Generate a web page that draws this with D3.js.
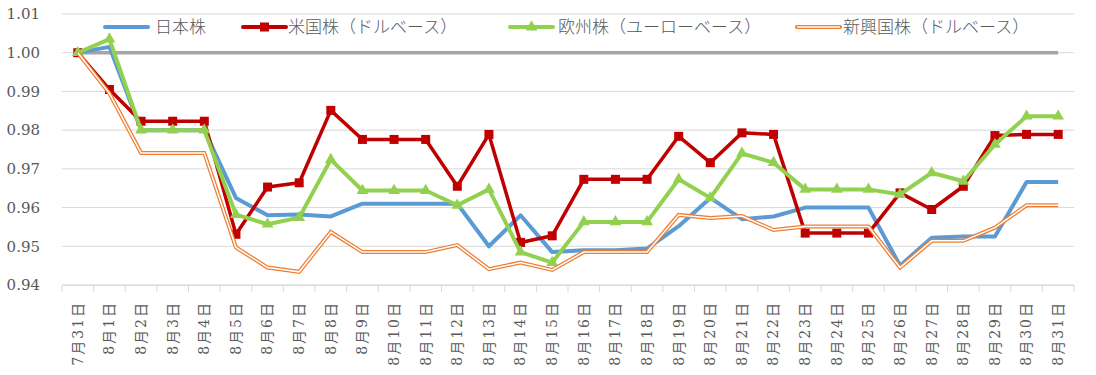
<!DOCTYPE html>
<html>
<head>
<meta charset="utf-8">
<script src="https://cdn.jsdelivr.net/npm/d3@7"></script>
<style>
body { margin: 0; background: white; }
</style>
</head>
<body>
<script>
/* categories: 7/31 and every day of August */
var dates = ["7月31日"];
for (var d = 1; d <= 31; d++) dates.push("8月" + d + "日");

var yTicks = [0.94, 0.95, 0.96, 0.97, 0.98, 0.99, 1.00, 1.01];

/* series values */
var japan = [1.000, 1.0015, 0.980, 0.980, 0.980, 0.9625, 0.958, 0.9582, 0.9577, 0.961, 0.961, 0.961,
	0.961, 0.950, 0.958, 0.9485, 0.949, 0.949, 0.9494, 0.9552, 0.9625, 0.957, 0.9577, 0.960, 0.960, 0.960,
	0.945, 0.9522, 0.9525, 0.9525, 0.9666, 0.9666];
var us = [1.000, 0.9905, 0.9823, 0.9823, 0.9823, 0.9531, 0.9653, 0.9664, 0.9851, 0.9776, 0.9776, 0.9776,
	0.9655, 0.9789, 0.951, 0.9527, 0.9673, 0.9673, 0.9673, 0.9784, 0.9716, 0.9793, 0.9789, 0.9534, 0.9534, 0.9534,
	0.9638, 0.9595, 0.9655, 0.9786, 0.9789, 0.9789];
var europe = [1.000, 1.0035, 0.980, 0.980, 0.980, 0.9582, 0.9557, 0.9574, 0.9724, 0.9644, 0.9644, 0.9644,
	0.9606, 0.9647, 0.9485, 0.9458, 0.9563, 0.9563, 0.9563, 0.9673, 0.9625, 0.974, 0.9716, 0.9647, 0.9647, 0.9647,
	0.9634, 0.969, 0.9668, 0.9763, 0.9836, 0.9836];
var emerging = [1.000, 0.9895, 0.9741, 0.9741, 0.9741, 0.9497, 0.9445, 0.9434, 0.9537, 0.9485, 0.9485, 0.9485,
	0.9503, 0.9441, 0.9458, 0.9439, 0.9485, 0.9485, 0.9485, 0.9581, 0.9573, 0.9578, 0.9542, 0.9551, 0.9551, 0.9551,
	0.9445, 0.9514, 0.9514, 0.9548, 0.9606, 0.9606];
var base = dates.map(function(){ return 1.00; });

var names = ["日本株", "米国株（ドルベース）", "欧州株（ユーローベース）", "新興国株（ドルベース）"];

var textColour = "#595959", gridColour = "#D9D9D9";

var svg = d3.select("body").append("svg")
	.attr("width", 1096)
	.attr("height", 375);

var x = d3.scaleBand().domain(dates).range([62, 1074]);
var y = d3.scaleLinear().domain([0.94, 1.01]).range([285, 14]);
var cx = function(d, i){ return x(dates[i]) + x.bandwidth()/2; };

/* horizontal gridlines */
svg.append("g").selectAll("line").data(yTicks).enter().append("line")
	.attr("x1", 62).attr("x2", 1074)
	.attr("y1", function(d){ return y(d); }).attr("y2", function(d){ return y(d); })
	.style("stroke", gridColour).style("stroke-width", 1);

/* y axis labels */
svg.append("g").selectAll("text").data(yTicks).enter().append("text")
	.attr("x", 40).attr("y", function(d){ return y(d); })
	.attr("dy", "0.35em").attr("text-anchor", "end")
	.style("font-family", "'DejaVu Serif', serif").style("font-size", "15px")
	.style("fill", textColour)
	.text(function(d){ return d3.format(".2f")(d); });

/* x axis with ticks between categories */
var xAxis = svg.append("g").attr("transform", "translate(0,285)")
	.call(d3.axisBottom(x).tickSize(0).tickFormat(""));
xAxis.select(".domain").style("stroke", gridColour);
xAxis.selectAll(".tick").remove();
xAxis.selectAll("line.sep").data(dates.concat(["end"])).enter().append("line").attr("class", "sep")
	.attr("x1", function(d, i){ return 62 + i*x.step(); })
	.attr("x2", function(d, i){ return 62 + i*x.step(); })
	.attr("y1", 0).attr("y2", 7)
	.style("stroke", gridColour);

/* rotated date labels */
svg.append("g").selectAll("text").data(dates).enter().append("text")
	.attr("transform", function(d){ return "translate(" + (x(d) + x.bandwidth()/2) + ",301) rotate(-90)"; })
	.attr("dy", "0.35em").attr("text-anchor", "end")
	.style("font-family", "'DejaVu Serif', 'Noto Sans CJK JP', serif").style("font-size", "14px")
	.style("letter-spacing", "2px")
	.style("fill", textColour)
	.text(function(d){ return d; });

var line = d3.line().x(cx).y(function(d){ return y(d); });

/* 1.00 reference line */
svg.append("path").datum(base).attr("d", line)
	.attr("fill", "none").style("stroke", "#A5A5A5").style("stroke-width", 3.5);

/* Japan */
svg.append("path").datum(japan).attr("d", line)
	.attr("fill", "none").style("stroke", "#5B9BD5").style("stroke-width", 4)
	.style("stroke-linejoin", "round");

/* US with square markers */
svg.append("path").datum(us).attr("d", line)
	.attr("fill", "none").style("stroke", "#C00000").style("stroke-width", 3.5)
	.style("stroke-linejoin", "round");
svg.append("g").selectAll("rect").data(us).enter().append("rect")
	.attr("x", function(d, i){ return cx(d, i) - 4.5; })
	.attr("y", function(d){ return y(d) - 4.5; })
	.attr("width", 9).attr("height", 9)
	.attr("fill", "#C00000");

/* Europe with triangle markers */
var tri = d3.symbol().type(d3.symbolTriangle).size(60);
svg.append("path").datum(europe).attr("d", line)
	.attr("fill", "none").style("stroke", "#92D050").style("stroke-width", 4)
	.style("stroke-linejoin", "round");
svg.append("g").selectAll("path").data(europe).enter().append("path")
	.attr("d", tri)
	.attr("transform", function(d, i){ return "translate(" + cx(d, i) + "," + y(d) + ")"; })
	.attr("fill", "#92D050");

/* Emerging: double line */
svg.append("path").datum(emerging).attr("d", line)
	.attr("fill", "none").style("stroke", "#ED7D31").style("stroke-width", 4);
svg.append("path").datum(emerging).attr("d", line)
	.attr("fill", "none").style("stroke", "white").style("stroke-width", 1.5);

/* legend */
var legendX = [105, 243, 510, 797];
var legend = svg.append("g").selectAll("g").data(names).enter().append("g")
	.attr("transform", function(d, i){ return "translate(" + legendX[i] + ",27)"; });
legend.append("line").attr("x1", 0).attr("x2", 43).attr("y1", 0).attr("y2", 0)
	.style("stroke", function(d, i){ return ["#5B9BD5", "#C00000", "#92D050", "#ED7D31"][i]; })
	.style("stroke-width", function(d, i){ return i == 3 ? 4 : 4; })
	.style("stroke-linecap", "round");
legend.filter(function(d, i){ return i == 3; }).append("line")
	.attr("x1", 0).attr("x2", 43).attr("y1", 0).attr("y2", 0)
	.style("stroke", "white").style("stroke-width", 1.5);
legend.filter(function(d, i){ return i == 1; }).append("rect")
	.attr("x", 17).attr("y", -4.5).attr("width", 9).attr("height", 9).attr("fill", "#C00000");
legend.filter(function(d, i){ return i == 2; }).append("path")
	.attr("d", tri).attr("transform", "translate(21.5,0)").attr("fill", "#92D050");
legend.append("text")
	.attr("x", function(d, i){ return [50, 45, 48, 46][i]; }).attr("y", 0).attr("dy", "0.35em")
	.style("font-family", "'Noto Sans CJK JP', sans-serif").style("font-size", "17px")
	.style("font-weight", 300)
	.style("fill", textColour)
	.text(function(d){ return d; });
</script>
</body>
</html>
